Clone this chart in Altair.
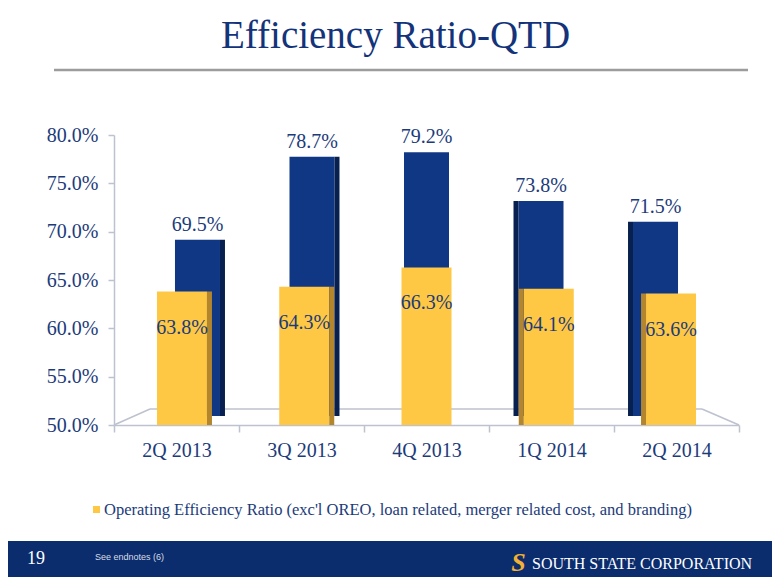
import altair as alt
import pandas as pd

# ---------------- data ----------------
quarters = ["2Q 2013", "3Q 2013", "4Q 2013", "1Q 2014", "2Q 2014"]
efficiency = [69.5, 78.7, 79.2, 73.8, 71.5]
operating = [63.8, 64.3, 66.3, 64.1, 63.6]
y_ticks = [50, 55, 60, 65, 70, 75, 80]

title_text = "Efficiency Ratio-QTD"
legend_text = "Operating Efficiency Ratio (exc'l OREO, loan related, merger related cost, and branding)"
page_number = "19"
endnote_text = "See endnotes (6)"
company_text = "SOUTH STATE CORPORATION"

# ---------------- style ----------------
SERIF = "Liberation Serif"
SANS = "Liberation Sans"
NAVY = "#0F3784"
NAVY_SIDE = "#08204F"
GOLD = "#FFC844"
GOLD_SIDE = "#B3852C"
TEXT = "#1C3B7A"
TITLE = "#13337A"
FLOOR = "#BEC2CE"
FOOTER = "#0B2D6E"

df = pd.DataFrame({"quarter": quarters, "eff": efficiency, "op": operating})
df["idx"] = range(len(quarters))
df["eff_label"] = [f"{v:.1f}%" for v in efficiency]
df["op_label"] = [f"{v:.1f}%" for v in operating]

base = alt.Chart(df)
one = alt.Chart(pd.DataFrame({"k": [0]}))

# ---------------- axis layer ----------------
x_axis = alt.X(
    "quarter:N", sort=quarters, title=None,
    scale=alt.Scale(type="band", paddingInner=0, paddingOuter=0),
    axis=alt.Axis(labelFont=SERIF, labelFontSize=20, labelColor=TEXT, labelAngle=0,
                  labelPadding=8, tickSize=7, tickColor=FLOOR, tickWidth=1.5,
                  domainColor=FLOOR, domainWidth=1.5, tickBand="extent", grid=False),
)
y_axis = alt.Y(
    "op:Q", title=None,
    scale=alt.Scale(domain=[50, 80], nice=False, zero=False),
    axis=alt.Axis(values=y_ticks, labelExpr="format(datum.value, '.1f') + '%'",
                  labelFont=SERIF, labelFontSize=20, labelColor=TEXT, labelPadding=10,
                  tickSize=6, tickColor=FLOOR, tickWidth=1.5, domainColor=FLOOR,
                  domainWidth=1.5, grid=False),
)
axis_layer = base.mark_bar(opacity=0).encode(x=x_axis, y=y_axis)

# ---------------- floor (3D look) ----------------
floor_back = one.mark_rule(color=FLOOR, strokeWidth=1.5).encode(
    x=alt.value(36), x2=alt.value(588), y=alt.value(274), y2=alt.value(274))
floor_left = one.mark_rule(color=FLOOR, strokeWidth=1.5).encode(
    x=alt.value(0), x2=alt.value(36), y=alt.value(290), y2=alt.value(274))
floor_right = one.mark_rule(color=FLOOR, strokeWidth=1.5).encode(
    x=alt.value(625), x2=alt.value(588), y=alt.value(290), y2=alt.value(274))

# ---------------- back bars (Efficiency Ratio) ----------------
xb = alt.X("quarter:N", sort=quarters, axis=None,
           scale=alt.Scale(type="band", paddingInner=0, paddingOuter=0.229))
yb = alt.Y("eff:Q", axis=None,
           scale=alt.Scale(domain=[49.007, 81.107], nice=False, zero=False))
blue = base.mark_bar(width=45, color=NAVY).encode(x=xb, y=yb, y2=alt.datum(50))
blue_side_r = base.mark_bar(width=5, color=NAVY_SIDE, xOffset=25).encode(
    x=xb, y=yb, y2=alt.datum(50)).transform_filter("datum.idx < 2")
blue_side_l = base.mark_bar(width=5, color=NAVY_SIDE, xOffset=-25).encode(
    x=xb, y=yb, y2=alt.datum(50)).transform_filter("datum.idx > 2")
blue_labels = base.mark_text(font=SERIF, fontSize=20, color=TEXT, dy=-15,
                             baseline="middle").encode(x=xb, y=yb, text="eff_label:N")
back = alt.layer(blue, blue_side_r, blue_side_l, blue_labels)

# ---------------- front bars (Operating Efficiency Ratio) ----------------
xf = alt.X("quarter:N", sort=quarters, axis=None,
           scale=alt.Scale(type="band", paddingInner=0, paddingOuter=0.056))
yf = alt.Y("op:Q", axis=None,
           scale=alt.Scale(domain=[50, 80], nice=False, zero=False))
gold = base.mark_bar(width=50, color=GOLD).encode(x=xf, y=yf, y2=alt.datum(50))
gold_side_r = base.mark_bar(width=5, color=GOLD_SIDE, xOffset=27.5).encode(
    x=xf, y=yf, y2=alt.datum(50)).transform_filter("datum.idx < 2")
gold_side_l = base.mark_bar(width=5, color=GOLD_SIDE, xOffset=-27.5).encode(
    x=xf, y=yf, y2=alt.datum(50)).transform_filter("datum.idx > 2")
gold_labels = base.mark_text(font=SERIF, fontSize=20, color=TEXT, dy=36,
                             baseline="middle").encode(x=xf, y=yf, text="op_label:N")
front = alt.layer(gold, gold_side_r, gold_side_l, gold_labels)

# ---------------- title, legend, footer ----------------
title = one.mark_text(text=title_text, font=SERIF, fontSize=39, color=TITLE,
                      align="center", baseline="alphabetic").encode(
    x=alt.value(281.5), y=alt.value(-87))
title_rule = one.mark_rule(color="#9C9C9C", strokeWidth=2.5).encode(
    x=alt.value(-60), x2=alt.value(634), y=alt.value(-65), y2=alt.value(-65))

legend_box = one.mark_rect(color=GOLD).encode(
    x=alt.value(-21), x2=alt.value(-14), y=alt.value(371), y2=alt.value(378))
legend_label = one.mark_text(text=legend_text, font=SERIF, fontSize=16.5, color=TEXT,
                             align="left", baseline="middle").encode(
    x=alt.value(-10), y=alt.value(375))

footer = one.mark_rect(color=FOOTER).encode(
    x=alt.value(-106), x2=alt.value(660), y=alt.value(406), y2=alt.value(445))
page_no = one.mark_text(text=page_number, font=SERIF, fontSize=18, color="white",
                        align="left", baseline="alphabetic").encode(
    x=alt.value(-87), y=alt.value(429))
endnote = one.mark_text(text=endnote_text, font=SANS, fontSize=9, color="#D8DCE6",
                        align="left", baseline="middle").encode(
    x=alt.value(-19), y=alt.value(422))
logo = one.mark_text(text="S", font=SERIF, fontSize=26, fontWeight="bold",
                     fontStyle="italic", color="#F2B134", align="center",
                     baseline="middle").encode(x=alt.value(404.5), y=alt.value(428))
company = one.mark_text(text=company_text, font=SERIF, fontSize=16, color="white",
                        align="left", baseline="alphabetic").encode(
    x=alt.value(418), y=alt.value(434))

chart = alt.layer(
    floor_back, floor_left, floor_right,
    axis_layer, back, front,
    title, title_rule, legend_box, legend_label,
    footer, page_no, endnote, logo, company,
).resolve_scale(x="independent", y="independent").properties(
    width=625, height=290,
    autosize=alt.AutoSizeParams(type="none"),
    padding={"left": 106, "top": 127, "right": 33, "bottom": 152},
    background="white",
).configure_view(strokeWidth=0)

chart.save("out.html", embed_options={"renderer": "svg", "actions": False})
